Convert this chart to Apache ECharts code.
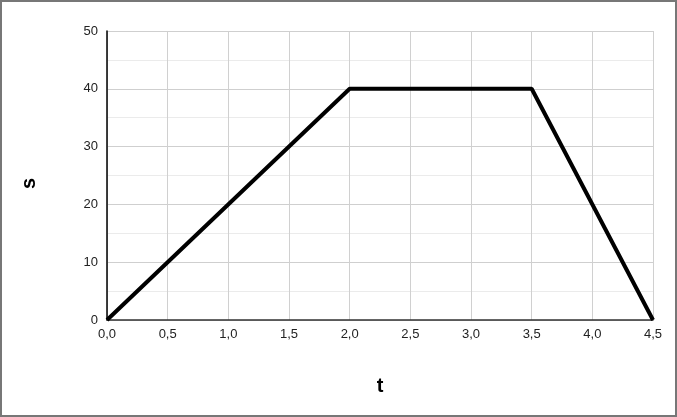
<!DOCTYPE html>
<html>
<head>
<meta charset="utf-8">
<script src="https://cdn.jsdelivr.net/npm/echarts@6/dist/echarts.min.js"></script>
<style>
html,body{margin:0;padding:0;background:#fff;}
#c{width:677px;height:417px;}
</style>
</head>
<body>
<div id="c"></div>
<script>
var tValues = [0, 2, 3.5, 4.5];
var sValues = [0, 40, 40, 0];
var xTicks = ['0,0','0,5','1,0','1,5','2,0','2,5','3,0','3,5','4,0','4,5'];
var yTicks = [0, 10, 20, 30, 40, 50];

var chart = echarts.init(document.getElementById('c'));
var font = 'Liberation Sans, Arial, sans-serif';
chart.setOption({
  animation: false,
  backgroundColor: '#fff',
  graphic: [{
    type: 'rect',
    shape: {x: 1, y: 1, width: 675, height: 415},
    style: {fill: 'none', stroke: '#777', lineWidth: 2},
    silent: true
  }],
  grid: {left: 107, right: 24, top: 31, bottom: 97},
  xAxis: {
    type: 'value',
    min: 0, max: 4.5, interval: 0.5,
    name: 't',
    nameLocation: 'middle',
    nameGap: 56,
    nameTextStyle: {fontFamily: font, fontSize: 20, fontWeight: 'bold', color: '#000'},
    axisLine: {show: true, lineStyle: {color: '#333', width: 1.5}},
    axisTick: {show: false},
    axisLabel: {
      fontFamily: font, fontSize: 13, color: '#222', margin: 8,
      formatter: function (v) { return xTicks[Math.round(v / 0.5)]; }
    },
    splitLine: {show: true, lineStyle: {color: '#d0d0d0', width: 1}}
  },
  yAxis: {
    type: 'value',
    min: 0, max: 50, interval: 10,
    name: 's',
    nameLocation: 'middle',
    nameGap: 68,
    nameTextStyle: {fontFamily: font, fontSize: 20, fontWeight: 'bold', color: '#000', padding: [0, 16, 0, 0]},
    axisLine: {show: true, lineStyle: {color: '#000', width: 1.5}},
    axisTick: {show: false},
    axisLabel: {
      fontFamily: font, fontSize: 13, color: '#222', margin: 9,
      formatter: function (v) { return String(yTicks[Math.round(v / 10)]); }
    },
    splitLine: {show: true, lineStyle: {color: '#cfcfcf', width: 1}},
    minorTick: {show: false, splitNumber: 2},
    minorSplitLine: {show: true, lineStyle: {color: '#ebebeb', width: 1}}
  },
  series: [{
    type: 'line',
    data: tValues.map(function (t, i) { return [t, sValues[i]]; }),
    showSymbol: false,
    lineStyle: {color: '#000', width: 4},
    itemStyle: {color: '#000'}
  }]
});
</script>
</body>
</html>
